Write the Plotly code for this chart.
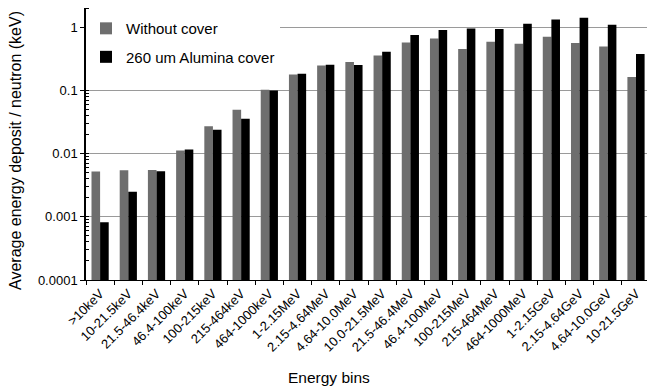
import plotly.graph_objects as go
import math

categories = [">10keV", "10-21.5keV", "21.5-46.4keV", "46.4-100keV", "100-215keV",
              "215-464keV", "464-1000keV", "1-2.15MeV", "2.15-4.64MeV", "4.64-10.0MeV",
              "10.0-21.5MeV", "21.5-46.4MeV", "46.4-100MeV", "100-215MeV", "215-464MeV",
              "464-1000MeV", "1-2.15GeV", "2.15-4.64GeV", "4.64-10.0GeV", "10-21.5GeV"]
without_cover = [0.0052, 0.00546, 0.0055, 0.0112, 0.0271, 0.0491, 0.102, 0.178, 0.247, 0.279,
                 0.356, 0.571, 0.66, 0.449, 0.585, 0.544, 0.703, 0.558, 0.493, 0.162]
alumina_cover = [0.00082, 0.00248, 0.00526, 0.01157, 0.0237, 0.0354, 0.0993, 0.182, 0.253, 0.25,
                 0.406, 0.747, 0.896, 0.95, 0.93, 1.13, 1.31, 1.40, 1.09, 0.374]

font = "Liberation Sans, Arial, sans-serif"

fig = go.Figure()
fig.add_trace(go.Bar(x=categories, y=without_cover, name="Without cover", legendgroup="a",
                     marker=dict(color="#6e6e6e", line=dict(width=0))))
fig.add_trace(go.Bar(x=categories, y=alumina_cover, name="260 um Alumina cover", legendgroup="b",
                     marker=dict(color="#000000", line=dict(width=0))))

fig.update_layout(
    width=647, height=390,
    margin=dict(l=86, r=0, t=8, b=110),
    paper_bgcolor="white", plot_bgcolor="white",
    barmode="group", bargap=0.39, bargroupgap=0,
    font=dict(family=font, size=13, color="black"),
    legend=dict(x=0.0, y=0.985, xanchor="left", yanchor="top",
                bgcolor="white", font=dict(size=15, family=font),
                itemwidth=30, tracegroupgap=6,
                entrywidth=190, entrywidthmode="pixels"),
    showlegend=True,
)
fig.update_xaxes(
    type="category", range=[-0.5, 19.39],
    showline=True, linecolor="black", linewidth=1,
    ticks="outside", ticklen=4, tickcolor="black", tickson="boundaries",
    tickangle=-45, tickfont=dict(size=13, family=font),
    showgrid=False,
)
fig.update_yaxes(
    type="log", range=[-4, math.log10(2)],
    tickmode="linear", tick0=0, dtick=1, exponentformat="none",
    showline=True, linecolor="black", linewidth=1.5,
    ticks="outside", ticklen=4, tickcolor="black",
    tickfont=dict(size=13, family=font),
    showgrid=True, gridcolor="#9a9a9a", gridwidth=1,
    minor=dict(ticks="inside", ticklen=3, tickcolor="black", dtick="D1", showgrid=False),
    zeroline=False,
)
fig.add_annotation(text="Average energy deposit / neutron (keV)", xref="paper", yref="paper",
                   x=-0.1248, y=0.478, textangle=-90, xanchor="center", yanchor="middle",
                   showarrow=False, font=dict(size=16, family=font))
fig.add_annotation(text="Energy bins", xref="paper", yref="paper", x=0.433, y=-0.36,
                   xanchor="center", yanchor="middle", showarrow=False,
                   font=dict(size=15.5, family=font))

fig.write_html("out.html")
